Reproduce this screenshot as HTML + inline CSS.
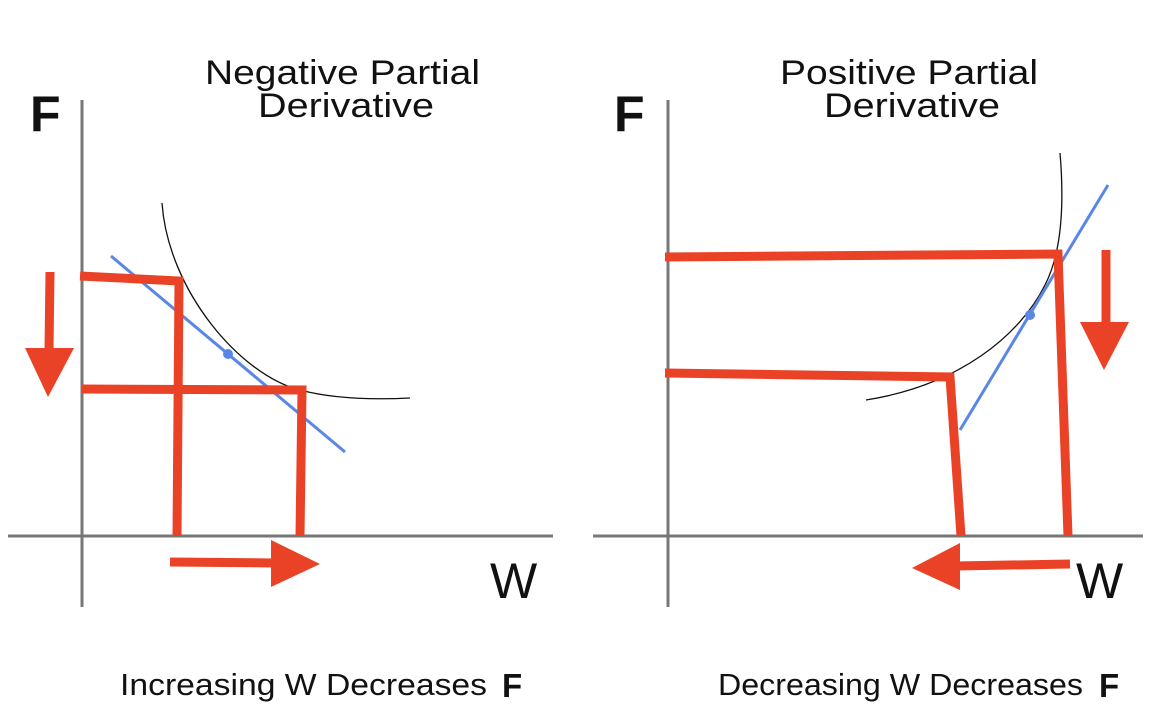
<!DOCTYPE html>
<html><head><meta charset="utf-8"><style>
body{margin:0;background:#fff;width:1176px;height:716px;overflow:hidden}
svg{display:block}
text{font-family:"Liberation Sans",sans-serif;fill:#111}
</style></head><body>
<svg width="1176" height="716" viewBox="0 0 1176 716">
<script>
// Conceptual diagram data (pixel-free labels only)
const panelTitles = [["Negative Partial","Derivative"],["Positive Partial","Derivative"]];
const captions = ["Increasing W Decreases","Decreasing W Decreases"];
</script>
<g>
  <line x1="82" y1="100" x2="82" y2="607" stroke="#777" stroke-width="3"/>
  <line x1="8" y1="536" x2="553" y2="536" stroke="#777" stroke-width="3"/>
  <text x="30" y="131" font-size="50" font-weight="bold" textLength="35">F</text>
  <text x="490" y="598" font-size="50" textLength="55">W</text>
  <text x="205" y="84" font-size="34" textLength="275" lengthAdjust="spacingAndGlyphs">Negative Partial</text>
  <text x="258" y="117" font-size="34" textLength="176" lengthAdjust="spacingAndGlyphs">Derivative</text>
  <path d="M162,203 C168,290 240,375 300,390 C330,398 370,400 410,398" fill="none" stroke="#111" stroke-width="1.3"/>
  <line x1="111" y1="256" x2="345" y2="452" stroke="#5a86e6" stroke-width="3"/>
  <circle cx="228" cy="354" r="5" fill="#5a86e6"/>
  <g stroke="#ea4226" stroke-width="9" fill="none" stroke-linejoin="miter">
    <polyline points="80,276 179,281 177,536"/>
    <polyline points="82,389 302,390 300,536"/>
    <line x1="50" y1="272" x2="49" y2="350"/>
    <line x1="170" y1="562" x2="275" y2="563"/>
  </g>
  <polygon points="25,348 74,348 48,397" fill="#ea4226"/>
  <polygon points="271,540 271,587 320,564" fill="#ea4226"/>
  <text x="120" y="695" font-size="31" textLength="367" lengthAdjust="spacingAndGlyphs">Increasing W Decreases</text>
  <text x="502" y="697" font-size="33" font-weight="bold">F</text>
</g>
<g>
  <line x1="668" y1="100" x2="668" y2="607" stroke="#777" stroke-width="3"/>
  <line x1="593" y1="536" x2="1143" y2="536" stroke="#777" stroke-width="3"/>
  <text x="614" y="131" font-size="50" font-weight="bold" textLength="35">F</text>
  <text x="1076" y="598" font-size="50" textLength="55">W</text>
  <text x="780" y="84" font-size="34" textLength="258" lengthAdjust="spacingAndGlyphs">Positive Partial</text>
  <text x="824" y="117" font-size="34" textLength="176" lengthAdjust="spacingAndGlyphs">Derivative</text>
  <path d="M1060,153 C1064,200 1063,250 1045,285 C1020,335 960,385 866,400" fill="none" stroke="#111" stroke-width="1.3"/>
  <line x1="1108" y1="185" x2="960" y2="430" stroke="#5a86e6" stroke-width="3"/>
  <circle cx="1030" cy="315" r="5" fill="#5a86e6"/>
  <g stroke="#ea4226" stroke-width="9" fill="none">
    <polyline points="665,257 1058,254 1068,536"/>
    <polyline points="665,373 950,377 961,536"/>
    <line x1="1106" y1="250" x2="1106" y2="324"/>
    <line x1="1070" y1="564" x2="955" y2="566"/>
  </g>
  <polygon points="1080,322 1129,322 1104,370" fill="#ea4226"/>
  <polygon points="960,543 960,590 912,568" fill="#ea4226"/>
  <text x="718" y="695" font-size="31" textLength="365" lengthAdjust="spacingAndGlyphs">Decreasing W Decreases</text>
  <text x="1099" y="697" font-size="33" font-weight="bold">F</text>
</g>
</svg>
</body></html>
